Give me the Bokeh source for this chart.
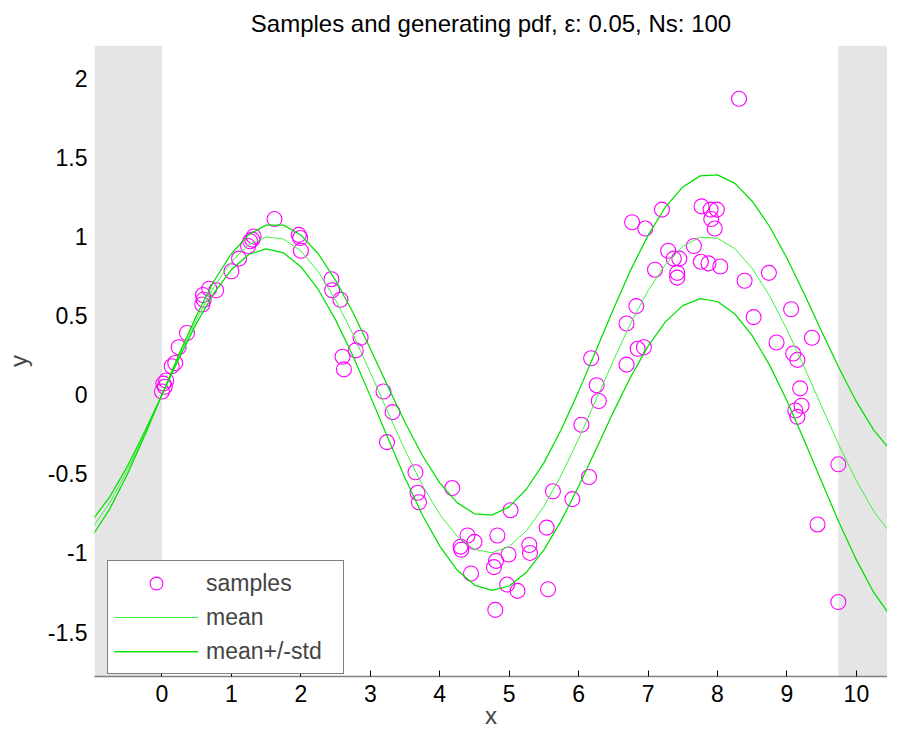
from bokeh.plotting import figure
from bokeh.models import Range1d, BoxAnnotation, Legend, LegendItem, FixedTicker, CustomJSTickFormatter
from bokeh.embed import file_html
from bokeh.resources import INLINE

# ---- data ----
sample_x = [0.00, 0.02, 0.06, 0.04, 0.14, 0.19, 0.24, 0.36, 0.58, 0.60,
            0.59, 0.68, 0.78, 1.00, 1.11, 1.24, 1.27, 1.30, 1.32, 1.62,
            1.97, 1.99, 2.00, 2.44, 2.45, 2.57, 2.86, 2.79, 2.60, 2.62,
            3.19, 3.32, 3.24, 3.65, 3.68, 3.70, 4.18, 5.02, 4.40, 4.50,
            4.30, 4.31, 4.83, 4.99, 4.81, 4.78, 4.45, 4.97, 5.12, 4.80,
            5.29, 5.30, 5.54, 5.56, 5.63, 5.91, 6.15, 6.04, 6.26, 6.29,
            6.18, 6.69, 6.85, 6.94, 6.69, 6.83, 7.10, 6.77, 6.96, 7.20,
            7.29, 7.37, 7.45, 7.42, 7.42, 7.66, 7.77, 7.90, 7.99, 7.91,
            7.96, 7.76, 7.87, 8.04, 8.39, 8.74, 8.31, 8.52, 9.06, 8.85,
            9.36, 9.09, 9.15, 9.19, 9.21, 9.12, 9.15, 9.74, 9.44, 9.74]
sample_y = [0.02, 0.07, 0.09, 0.05, 0.18, 0.20, 0.30, 0.39, 0.57, 0.60,
            0.63, 0.67, 0.66, 0.78, 0.86, 0.94, 0.97, 0.98, 1.00, 1.11,
            1.01, 0.99, 0.91, 0.73, 0.66, 0.60, 0.36, 0.28, 0.24, 0.16,
            0.02, -0.11, -0.30, -0.49, -0.62, -0.68, -0.59, -0.73, -0.89, -0.93,
            -0.96, -0.98, -0.89, -1.01, -1.05, -1.09, -1.13, -1.20, -1.24, -1.36,
            -0.95, -1.00, -0.84, -1.23, -0.61, -0.66, -0.52, -0.19, 0.06, -0.04,
            0.23, 0.19, 0.29, 0.30, 0.45, 0.56, 0.79, 1.09, 1.05, 1.17,
            0.91, 0.86, 0.86, 0.77, 0.74, 0.94, 1.19, 1.17, 1.17, 1.11,
            1.05, 0.84, 0.83, 0.81, 0.72, 0.77, 1.87, 0.49, 0.54, 0.33,
            0.36, 0.26, 0.22, 0.04, -0.07, -0.10, -0.14, -0.44, -0.82, -1.31]

curve_x = [-1.0, -0.75, -0.5, -0.25, 0.0, 0.25, 0.5, 0.75, 1.0, 1.25, 1.5, 1.75,
           2.0, 2.25, 2.5, 2.75, 3.0, 3.25, 3.5, 3.75, 4.0, 4.25, 4.5, 4.75,
           5.0, 5.25, 5.5, 5.75, 6.0, 6.25, 6.5, 6.75, 7.0, 7.25, 7.5, 7.75,
           8.0, 8.25, 8.5, 8.75, 9.0, 9.25, 9.5, 9.75, 10.0, 10.25, 10.5, 10.75]
mean_y = [-0.841, -0.682, -0.479, -0.247, 0.0, 0.247, 0.479, 0.682, 0.841, 0.949, 0.997, 0.984,
          0.909, 0.778, 0.598, 0.382, 0.141, -0.108, -0.351, -0.572, -0.757, -0.895, -0.978, -0.999,
          -0.959, -0.859, -0.706, -0.508, -0.279, -0.033, 0.215, 0.451, 0.657, 0.823, 0.938, 0.995,
          0.989, 0.923, 0.798, 0.625, 0.412, 0.174, -0.075, -0.319, -0.544, -0.737, -0.880, -0.972]
std_y = [0.050, 0.038, 0.025, 0.013, 0.0, 0.013, 0.025, 0.038, 0.050, 0.063, 0.075, 0.088,
         0.100, 0.113, 0.125, 0.138, 0.150, 0.163, 0.175, 0.188, 0.200, 0.213, 0.225, 0.238,
         0.250, 0.263, 0.275, 0.288, 0.300, 0.313, 0.325, 0.338, 0.350, 0.363, 0.375, 0.388,
         0.400, 0.413, 0.425, 0.438, 0.450, 0.463, 0.475, 0.488, 0.500, 0.513, 0.525, 0.538]

x_ticks = [0, 1, 2, 3, 4, 5, 6, 7, 8, 9, 10]
y_ticks = [-1.5, -1, -0.5, 0, 0.5, 1, 1.5, 2]
title_text = "Samples and generating pdf, \u03b5: 0.05, Ns: 100"

upper_y = [m + s for m, s in zip(mean_y, std_y)]
lower_y = [m - s for m, s in zip(mean_y, std_y)]

FONT = "Liberation Sans"

p = figure(width=887, height=736,
           x_range=Range1d(-0.972, 10.448), y_range=Range1d(-1.781, 2.207),
           output_backend="svg", toolbar_location=None,
           min_border_left=94, min_border_right=0, min_border_top=45, min_border_bottom=60)
p.outline_line_color = None
p.background_fill_color = "white"
p.border_fill_color = "white"
p.xgrid.visible = False
p.ygrid.visible = False

# title
p.title.text = title_text
p.title.align = "center"
p.title.vertical_align = "top"
p.title.text_font = FONT
p.title.text_font_size = "24px"
p.title.text_font_style = "normal"
p.title.text_color = "black"
p.title.standoff = 14

# gray regions outside sample range
gray = "#e5e5e5"
p.add_layout(BoxAnnotation(right=min(sample_x), fill_color=gray, fill_alpha=1.0,
                           line_color=None, level="underlay"))
p.add_layout(BoxAnnotation(left=max(sample_x), fill_color=gray, fill_alpha=1.0,
                           line_color=None, level="underlay"))

r_samples = p.scatter(sample_x, sample_y, marker="circle", size=15,
                      fill_color=None, line_color="#ff00ff", line_width=1.1)
r_mean = p.line(curve_x, mean_y, line_color="#40f040", line_width=1.0)
r_up = p.line(curve_x, upper_y, line_color="#00e000", line_width=1.25)
r_lo = p.line(curve_x, lower_y, line_color="#00e000", line_width=1.25)

fmt = CustomJSTickFormatter(code="return String(Math.round(tick*10)/10);")

xa = p.xaxis[0]
xa.ticker = FixedTicker(ticks=x_ticks)
xa.formatter = fmt
xa.axis_label = "x"
xa.axis_line_color = "#808080"
xa.axis_line_width = 1.5
xa.major_tick_in = 6
xa.major_tick_out = 0
xa.major_tick_line_color = "black"
xa.minor_tick_line_color = None
xa.major_label_standoff = 8
xa.major_label_text_font = FONT
xa.major_label_text_font_size = "23px"
xa.major_label_text_color = "black"
xa.axis_label_text_font = FONT
xa.axis_label_text_font_size = "24px"
xa.axis_label_text_font_style = "normal"
xa.axis_label_standoff = -3

ya = p.yaxis[0]
ya.ticker = FixedTicker(ticks=y_ticks)
ya.formatter = fmt
ya.axis_label = "y"
ya.axis_line_color = None
ya.major_tick_line_color = None
ya.minor_tick_line_color = None
ya.major_tick_in = 0
ya.major_tick_out = 0
ya.major_label_standoff = 7
ya.major_label_text_font = FONT
ya.major_label_text_font_size = "23px"
ya.major_label_text_color = "black"
ya.axis_label_text_font = FONT
ya.axis_label_text_font_size = "24px"
ya.axis_label_text_font_style = "normal"
ya.axis_label_standoff = 13

legend = Legend(items=[LegendItem(label="samples", renderers=[r_samples]),
                       LegendItem(label="mean", renderers=[r_mean]),
                       LegendItem(label="mean+/-std", renderers=[r_up, r_lo])],
                location=(13, 2), margin=0, padding=6, spacing=2,
                glyph_width=84, glyph_height=32, label_height=32, label_width=131,
                label_standoff=8,
                label_text_font=FONT, label_text_font_size="23px",
                border_line_color="black", border_line_width=1,
                background_fill_color="white", background_fill_alpha=1.0)
p.add_layout(legend)

open("out.html", "w").write(file_html(p, INLINE))
